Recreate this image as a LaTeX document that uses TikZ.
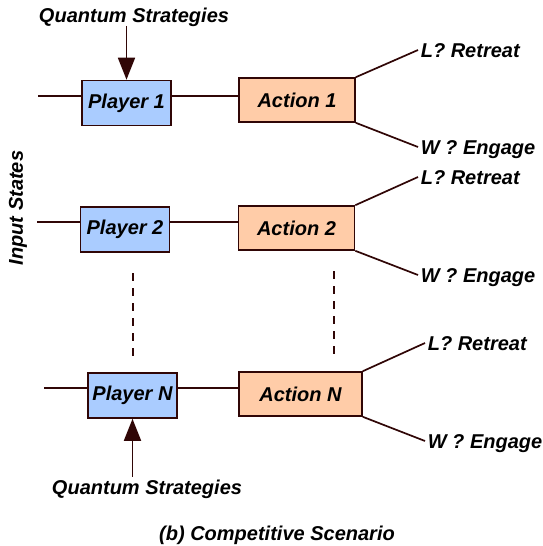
\documentclass[tikz,border=0pt]{standalone}
\usepackage{xcolor}
\usepackage{fontspec}
\setmainfont{Liberation Sans}
\usetikzlibrary{arrows.meta,calc}
\definecolor{playerblue}{RGB}{170,204,255}
\definecolor{actionpeach}{RGB}{255,204,168}
\definecolor{wire}{RGB}{48,6,6}

\begin{document}
\begin{tikzpicture}
  [x=1pt,y=-1pt,line width=1.6pt,draw=wire,
   every node/.style={font=\fontsize{20}{22}\selectfont\bfseries\itshape,inner sep=2pt},
   player/.style={rectangle,draw=wire,fill=playerblue,minimum width=89pt,minimum height=45pt},
   action/.style={rectangle,draw=wire,fill=actionpeach,minimum width=116pt,minimum height=44pt},
   outcome/.style={anchor=west,text height=14pt,text depth=0pt},
   label/.style={text height=14pt,text depth=0pt}]
\tikzset{%
wire/.style={draw=wire,line width=1.7pt},
feed/.style={wire,-{Triangle[length=22pt,width=17pt]}},
dots/.style={wire,line width=1.5pt,dash pattern=on 8pt off 7pt}
}
\useasboundingbox (0,0) rectangle (543,546);
  \node[player] (p1) at (126.5,103) {Player 1};
  \node[player] (p2) at (125,229.5) {Player 2};
  \node[player] (pN) at (132.5,395.5) {Player N};
  \node[action] (a1) at (297,100) {Action 1};
  \node[action] (a2) at (296.5,228) {Action 2};
  \node[action,minimum width=123pt] (aN) at (300.5,394) {Action N};
  \coordinate (in1) at (38,96);
  \coordinate (in2) at (37,222);
  \coordinate (inN) at (44,388);
  \draw[wire] (in1) -- (p1.west |- in1) (p1.east |- in1) -- (a1.west |- in1);
  \draw[wire] (in2) -- (p2.west |- in2) (p2.east |- in2) -- (a2.west |- in2);
  \draw[wire] (inN) -- (pN.west |- inN) (pN.east |- inN) -- (aN.west |- inN);
  \node[outcome] (r1) at (418,50) {L? Retreat};
  \node[outcome] (e1) at (418,147) {W ? Engage};
  \node[outcome] (r2) at (418,177) {L? Retreat};
  \node[outcome] (e2) at (418,275) {W ? Engage};
  \node[outcome] (rN) at (425,343) {L? Retreat};
  \node[outcome] (eN) at (425,441) {W ? Engage};
  \draw[wire] (a1.north east) -- (r1.west) (a1.south east) -- (e1.west);
  \draw[wire] (a2.north east) -- (r2.west) (a2.south east) -- (e2.west);
  \draw[wire] (aN.north east) -- (rN.west) (aN.south east) -- (eN.west);
  \node[label,inner sep=3pt] (q1) at (134,15) {Quantum Strategies};
  \node[label,inner sep=3pt] (qN) at (147,487.5) {Quantum Strategies};
  \draw[feed] (q1.south -| p1.north) -- (p1.north);
  \draw[feed] (qN.north -| pN.south) -- (pN.south);
  \coordinate (d1) at (133,273);
  \coordinate (d2) at (133,357);
  \coordinate (d3) at (334,271);
  \coordinate (d4) at (334,357);
  \draw[dots] (d1) -- (d2);
  \draw[dots] (d3) -- (d4);
\node[label,rotate=90] (in) at (16,208) {Input States};
\node[label] (cap) at (277,533) {(b) Competitive Scenario};
\end{tikzpicture}
\end{document}
